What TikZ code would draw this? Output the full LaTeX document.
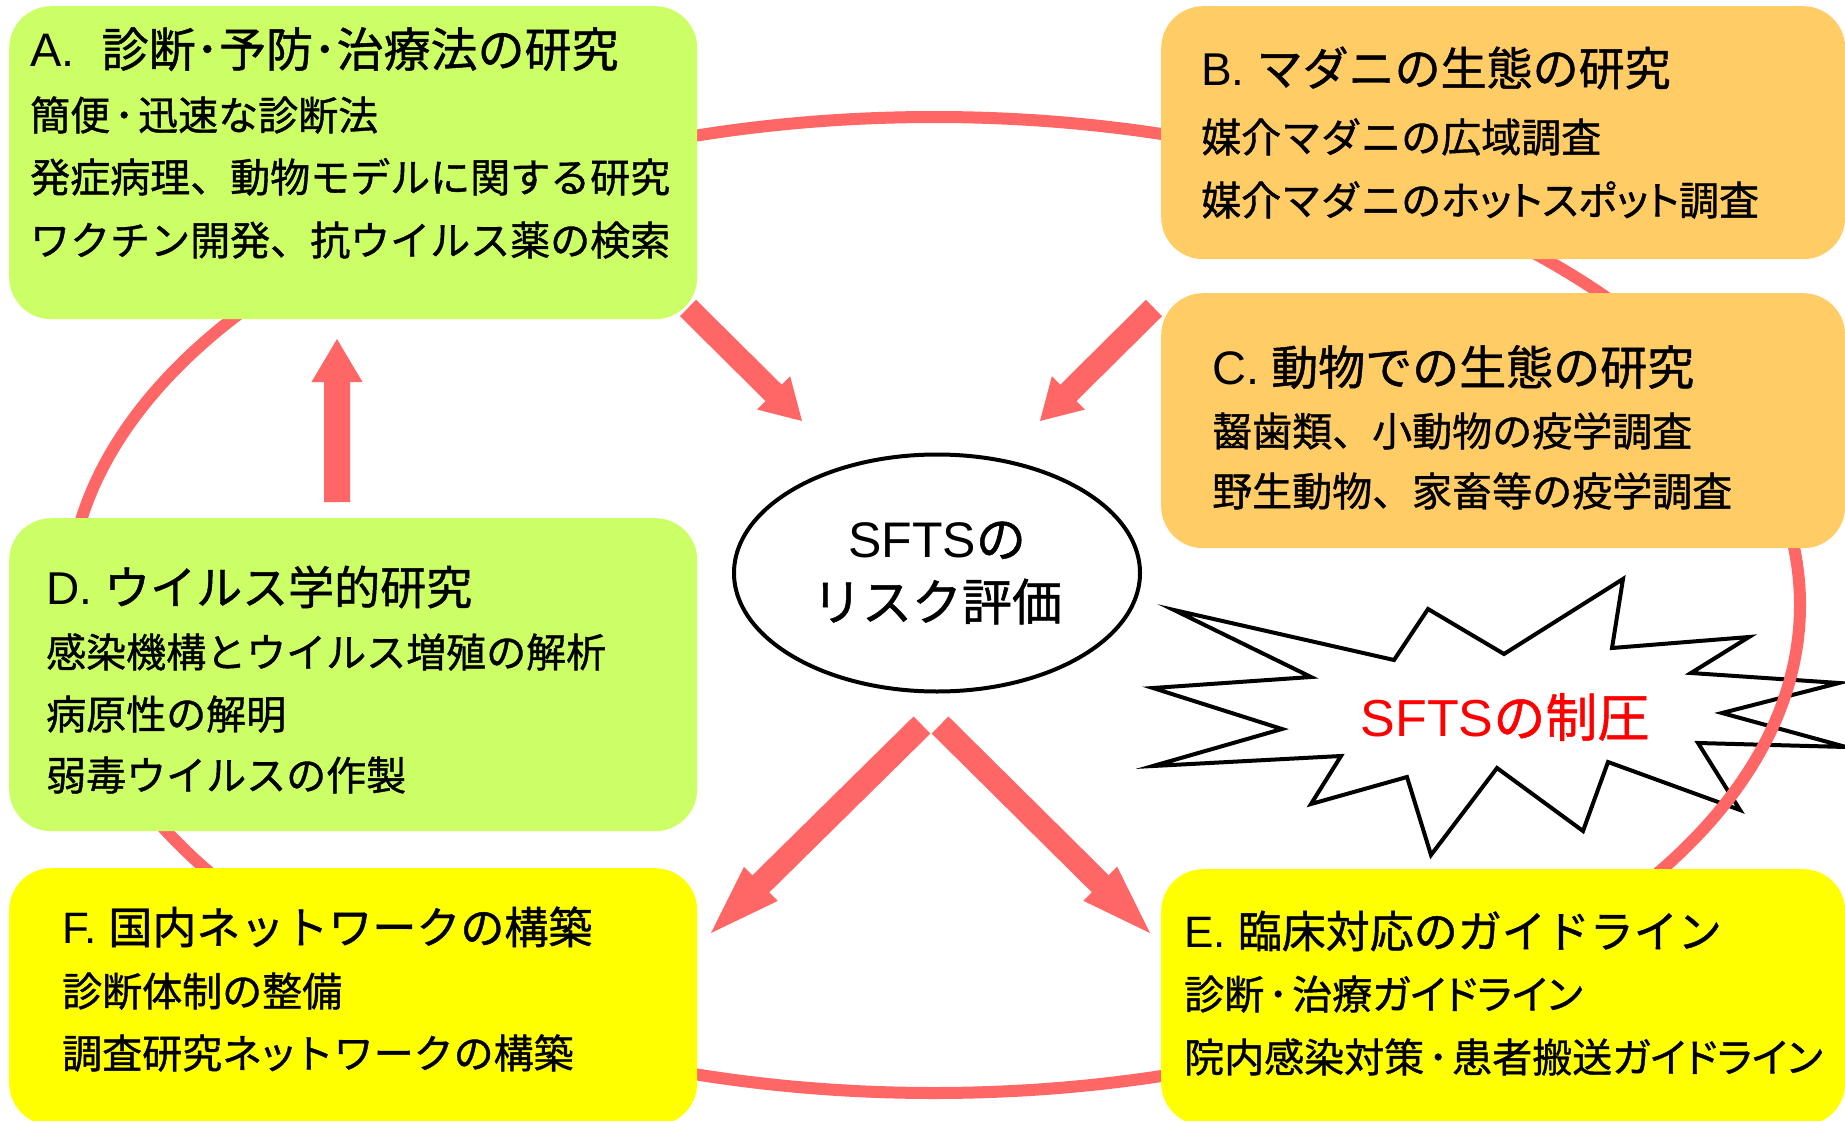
\documentclass[tikz,border=0pt]{standalone}
\usepackage{fontspec}
\setmainfont{Noto Sans CJK JP}[FakeBold=1]
\newfontfamily\lat{Liberation Sans}
\usetikzlibrary{calc,shapes.geometric}
\definecolor{ringred}{HTML}{FF6666}
\definecolor{boxgreen}{HTML}{CCFF66}
\definecolor{boxorange}{HTML}{FFCC66}
\definecolor{boxyellow}{HTML}{FFFF00}
\definecolor{burstred}{HTML}{FF0000}
\newcommand\kp[1]{{\addfontfeature{RawFeature=+palt}#1}}
\newcommand\dt{\hspace{4pt}･\hspace{4pt}}
\newcommand\blockarrow[5]{%
  \coordinate (hb) at ($(#2)!#5!(#1)$);
  \fill[ringred] ($(#1)!#3!90:(#2)$) -- ($(hb)!#3!-90:(#1)$) -- ($(hb)!#4!-90:(#1)$) -- (#2)
     -- ($(hb)!#4!90:(#1)$) -- ($(hb)!#3!90:(#1)$) -- ($(#1)!#3!-90:(#2)$) -- cycle;}
\begin{document}
\begin{tikzpicture}[x=1pt,y=-1pt,
  box/.style={anchor=north west, rounded corners=42pt, inner sep=0pt, draw=none},
  ttl/.style={anchor=west, inner sep=0pt, font=\fontsize{#1}{#1}\selectfont, text height=0.88*#1, text depth=0.12*#1},
  body/.style={anchor=west, inner sep=0pt, font=\fontsize{40pt}{48pt}\selectfont, text height=35.2pt, text depth=4.8pt},
  ring/.style={draw=ringred, line width=12pt},
  burst/.style={draw=black, fill=white, line width=4pt},
  risk/.style={ellipse, draw=black, line width=4pt, fill=white, minimum width=406pt, minimum height=237pt,
    align=center, inner sep=0pt, font=\fontsize{50pt}{63pt}\selectfont}]
\useasboundingbox (0,0) rectangle (1845,1121);
\fill[white] (0,0) rectangle (1845,1121);

% starburst
\draw[burst] (1174,610) -- (1394,660) -- (1428,609) -- (1504,654) -- (1623,579) -- (1612,648)
  -- (1749,637) -- (1691,673) -- (1839,683) -- (1722,713) -- (1846,747) -- (1698,743)
  -- (1740,810) -- (1608,762) -- (1583,831) -- (1497,768) -- (1431,855) -- (1407,777)
  -- (1311,804) -- (1341,756) -- (1153,766) -- (1282,729) -- (1153,688) -- (1311,677) -- cycle;
\node[font=\fontsize{52pt}{60pt}\selectfont, text=burstred, inner sep=0pt] (ctrl) at (1505,717) {{\lat SFTS}の制圧};

% ring
\draw[ring] (934,605) ellipse [x radius=866pt, y radius=488pt];

% boxes
\node[box, fill=boxgreen, minimum width=688pt, minimum height=313pt] (A) at (9,6) {};
\node[box, fill=boxorange, minimum width=684pt, minimum height=253pt] (B) at (1161,6) {};
\node[box, fill=boxorange, minimum width=684pt, minimum height=255pt] (C) at (1161,293) {};
\node[box, fill=boxgreen, minimum width=688pt, minimum height=313pt] (D) at (9,518) {};
\node[box, fill=boxyellow, minimum width=688pt, minimum height=257pt] (F) at (9,868) {};
\node[box, fill=boxyellow, minimum width=684pt, minimum height=256pt] (E) at (1161,869) {};

% texts
\node[ttl=47pt] (At) at (30,49) {{\lat A.}\hspace{27pt}診断･予防･治療法の研究};
\node[body] (A1) at (30,115) {簡便\dt 迅速な診断法};
\node[body] (A2) at (30,177) {発症病理、動物モデルに関する研究};
\node[body] (A3) at (30,240) {ワクチン開発、抗ウイルス薬の検索};

\node[ttl=46pt] (Bt) at (1201,68) {{\lat B.}\hspace{12pt}マダニの生態の研究};
\node[body] (B1) at (1201,137) {媒介マダニの広域調査};
\node[body] (B2) at (1201,200) {媒介マダニの\kp{ホットスポット}調査};

\node[ttl=47pt] (Ct) at (1212,367) {{\lat C.}\hspace{12pt}動物での生態の研究};
\node[body] (C1) at (1212,431) {齧歯類、小動物の疫学調査};
\node[body] (C2) at (1212,491) {野生動物、家畜等の疫学調査};

\node[ttl=46pt] (Dt) at (46,587) {{\lat D.}\hspace{12pt}ウイルス学的研究};
\node[body] (D1) at (46,652) {感染機構とウイルス増殖の解析};
\node[body] (D2) at (46,714) {病原性の解明};
\node[body] (D3) at (46,775) {弱毒ウイルスの作製};

\node[ttl=44pt] (Ft) at (62,927) {{\lat F.}\hspace{12pt}国内ネットワークの構築};
\node[body] (F1) at (62,991) {診断体制の整備};
\node[body] (F2) at (62,1053) {調査研究ネ\kp{ッ}トワークの構築};

\node[ttl=44pt] (Et) at (1184,931) {{\lat E.}\hspace{12pt}臨床対応のガイドライン};
\node[body] (E1) at (1184,994) {診断\dt 治療\kp{ガイドライン}};
\node[body] (E2) at (1184,1057) {院内感染対策\dt 患者搬送\kp{ガイドライン}};

% centre
\node[risk] (risk) at (937,573) {{\lat SFTS}の\\リスク評価};

% arrows
\coordinate (a1s) at (688,308); \coordinate (a1t) at (802,421);
\coordinate (a2s) at (1154,308); \coordinate (a2t) at (1040,421);
\coordinate (a3s) at (337,502); \coordinate (a3t) at (337,339);
\coordinate (a4s) at (922,725); \coordinate (a4t) at (711,933);
\coordinate (a5s) at (940,725); \coordinate (a5t) at (1150,933);
\blockarrow{a1s}{a1t}{11.5pt}{23.5pt}{40pt}
\blockarrow{a2s}{a2t}{11.5pt}{23.5pt}{40pt}
\blockarrow{a3s}{a3t}{13pt}{25.5pt}{43pt}
\blockarrow{a4s}{a4t}{12pt}{24pt}{70pt}
\blockarrow{a5s}{a5t}{12pt}{24pt}{70pt}
\end{tikzpicture}
\end{document}
